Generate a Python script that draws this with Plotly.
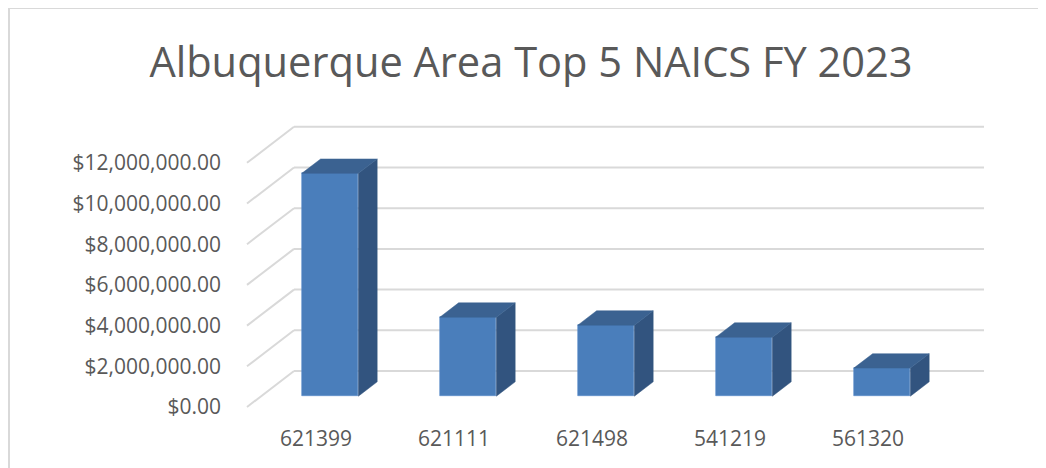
import plotly.graph_objects as go

# ---------------- data ----------------
categories = ["621399", "621111", "621498", "541219", "561320"]
values = [10.95e6, 3.88e6, 3.49e6, 2.90e6, 1.38e6]
tick_values = [0, 2e6, 4e6, 6e6, 8e6, 10e6, 12e6]
tick_labels = ["$0.00", "$2,000,000.00", "$4,000,000.00", "$6,000,000.00",
               "$8,000,000.00", "$10,000,000.00", "$12,000,000.00"]
title_text = "Albuquerque Area Top 5 NAICS FY 2023"

# ---------------- layout geometry (page pixels) ----------------
OFF = 8                                    # default page body margin
PAGE_W, PAGE_H = 1046, 468
W, H = PAGE_W - OFF, PAGE_H - OFF          # figure size
L, R, T, B = 230, 1000, 100, 420           # plot area (page px)
X0_PX, Y0_PX = 247, 407                    # front-plane origin (page px)
PX_PER_CAT = 138.0
PX_PER_DOLLAR = 40.7 / 2e6
DEPTH_DX_PX, DEPTH_DY_PX = 47.0, 36.0      # oblique depth offset
F0, F1 = 0.30, 0.70                        # bar depth range (fraction)
BAR_W = 0.41                               # bar width (category units)

x_range = [(L - X0_PX) / PX_PER_CAT, (R - X0_PX) / PX_PER_CAT]
y_range = [-(B - Y0_PX) / PX_PER_DOLLAR, (Y0_PX - T) / PX_PER_DOLLAR]
ddx = DEPTH_DX_PX / PX_PER_CAT
ddy = DEPTH_DY_PX / PX_PER_DOLLAR
n = len(categories)

FRONT = "#4a7ebb"
TOP = "#3b6291"
SIDE = "#32547f"
GRID = "#d9d9d9"
TEXT = "#595959"

fig = go.Figure()

# grid: left wall diagonals + back wall lines
shapes = []
for v in tick_values:
    shapes.append(dict(type="line", xref="x", yref="y", x0=0, y0=v, x1=ddx, y1=v + ddy,
                       line=dict(color=GRID, width=2), layer="below"))
    shapes.append(dict(type="line", xref="x", yref="y", x0=ddx, y0=v + ddy, x1=n + ddx, y1=v + ddy,
                       line=dict(color=GRID, width=2), layer="below"))

# chart-area border (left and top visible)
px_to_paper_x = lambda px: (px - L) / (R - L)
px_to_paper_y = lambda py: (B - py) / (B - T)
shapes.append(dict(type="line", xref="paper", yref="paper",
                   x0=px_to_paper_x(9), y0=px_to_paper_y(8), x1=px_to_paper_x(9), y1=px_to_paper_y(PAGE_H + 5),
                   line=dict(color="#d9d9d9", width=2)))
shapes.append(dict(type="line", xref="paper", yref="paper",
                   x0=px_to_paper_x(9), y0=px_to_paper_y(8), x1=px_to_paper_x(PAGE_W + 5), y1=px_to_paper_y(8),
                   line=dict(color="#d9d9d9", width=2)))

# front faces
front_x = [i + 0.5 + F0 * ddx for i in range(n)]
fig.add_trace(go.Bar(
    x=front_x, y=values, base=[F0 * ddy] * n, width=BAR_W,
    marker=dict(color=FRONT, line=dict(color="#5a8ccb", width=0.6)),
    customdata=list(zip(categories, values)),
    hovertemplate="%{customdata[0]}: $%{customdata[1]:,.2f}<extra></extra>",
    showlegend=False,
))

# top and side faces
dx = (F1 - F0) * ddx
dy = (F1 - F0) * ddy
top_x, top_y, side_x, side_y = [], [], [], []
for i, v in enumerate(values):
    xl = i + 0.5 - BAR_W / 2 + F0 * ddx
    xr = i + 0.5 + BAR_W / 2 + F0 * ddx
    b0 = F0 * ddy
    vt = v + b0
    top_x += [xl, xr, xr + dx, xl + dx, xl, None]
    top_y += [vt, vt, vt + dy, vt + dy, vt, None]
    side_x += [xr, xr, xr + dx, xr + dx, xr, None]
    side_y += [b0, vt, vt + dy, b0 + dy, b0, None]

fig.add_trace(go.Scatter(x=side_x, y=side_y, mode="lines", fill="toself",
                         fillcolor=SIDE, line=dict(color=SIDE, width=0.5),
                         hoverinfo="skip", showlegend=False))
fig.add_trace(go.Scatter(x=top_x, y=top_y, mode="lines", fill="toself",
                         fillcolor=TOP, line=dict(color=TOP, width=0.5),
                         hoverinfo="skip", showlegend=False))

fig.update_layout(
    width=W, height=H,
    margin=dict(l=L - OFF, r=PAGE_W - R, t=T - OFF, b=PAGE_H - B, pad=0),
    paper_bgcolor="white", plot_bgcolor="white",
    font=dict(family="Open Sans", color=TEXT),
    title=dict(text=title_text, x=(531 - OFF) / W, xanchor="center",
               y=1 - (62 - OFF) / H, yanchor="middle", yref="container",
               font=dict(family="Open Sans", size=41.6, color=TEXT)),
    shapes=shapes,
    xaxis=dict(range=x_range, tickvals=[i + 0.5 for i in range(n)], ticktext=categories,
               showgrid=False, zeroline=False, showline=False, ticks="",
               ticklabelstandoff=4,
               tickfont=dict(size=21, color=TEXT), fixedrange=True),
    yaxis=dict(range=y_range, tickvals=tick_values, ticktext=tick_labels,
               showgrid=False, zeroline=False, showline=False, ticks="",
               ticklabelstandoff=8,
               tickfont=dict(size=21, color=TEXT), fixedrange=True),
    bargap=0,
)

fig.write_html("out.html")
